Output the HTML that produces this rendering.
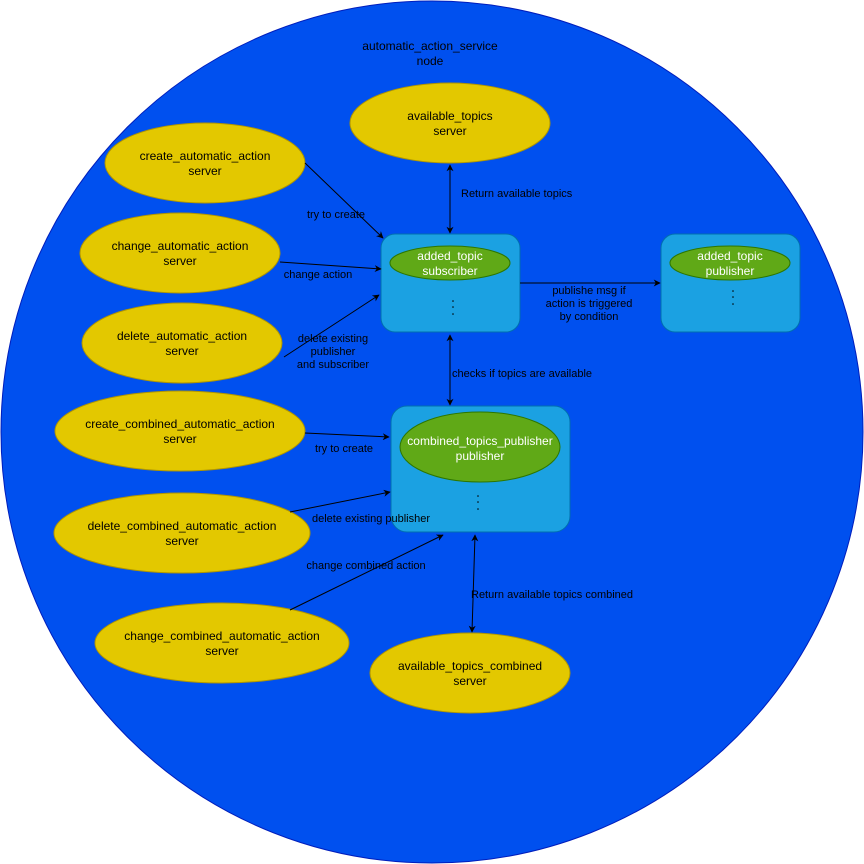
<!DOCTYPE html>
<html><head><meta charset="utf-8"><style>
html,body{margin:0;padding:0;background:#fff;}
svg{display:block;}
text{font-family:"Liberation Sans",Arial,sans-serif;}
</style></head><body>
<svg width="864" height="864" viewBox="0 0 864 864" xmlns="http://www.w3.org/2000/svg">
<defs>
<marker id="a" viewBox="0 0 10 10" refX="9" refY="5" markerWidth="7" markerHeight="7" orient="auto-start-reverse">
<path d="M0,0 L10,5 L0,10 L3,5 z" fill="#000"/></marker>
</defs>
<circle cx="432" cy="432" r="431" fill="#0050EF" stroke="#001DBC" stroke-width="1"/>
<g font-size="12" fill="#000" text-anchor="middle">
<text x="430" y="50">automatic_action_service</text>
<text x="430" y="65">node</text>
</g>
<g fill="#E3C800" stroke="#B09500" stroke-width="1">
<ellipse cx="450" cy="123" rx="100" ry="40"/>
<ellipse cx="205" cy="163" rx="100" ry="40"/>
<ellipse cx="180" cy="253" rx="100" ry="40"/>
<ellipse cx="182" cy="343" rx="100" ry="40"/>
<ellipse cx="180" cy="431" rx="125" ry="40"/>
<ellipse cx="182" cy="533" rx="128" ry="40"/>
<ellipse cx="222" cy="643" rx="127" ry="40"/>
<ellipse cx="470" cy="673" rx="100" ry="40"/>
</g>
<g font-size="12" fill="#000" text-anchor="middle">
<text x="450" y="120">available_topics</text><text x="450" y="135">server</text>
<text x="205" y="160">create_automatic_action</text><text x="205" y="175">server</text>
<text x="180" y="250">change_automatic_action</text><text x="180" y="265">server</text>
<text x="182" y="340">delete_automatic_action</text><text x="182" y="355">server</text>
<text x="180" y="428">create_combined_automatic_action</text><text x="180" y="443">server</text>
<text x="182" y="530">delete_combined_automatic_action</text><text x="182" y="545">server</text>
<text x="222" y="640">change_combined_automatic_action</text><text x="222" y="655">server</text>
<text x="470" y="670">available_topics_combined</text><text x="470" y="685">server</text>
</g>
<g fill="#1BA1E2" stroke="#006EAF" stroke-width="1">
<rect x="381" y="234" width="139" height="98" rx="14"/>
<rect x="661" y="234" width="139" height="98" rx="14"/>
<rect x="391" y="406" width="179" height="126" rx="16"/>
</g>
<g fill="#60A917" stroke="#2D7600" stroke-width="1">
<ellipse cx="450" cy="263" rx="60" ry="17"/>
<ellipse cx="730" cy="263" rx="60" ry="17"/>
<ellipse cx="480" cy="447" rx="80" ry="35"/>
</g>
<g font-size="12" fill="#fff" text-anchor="middle">
<text x="450" y="260">added_topic</text><text x="450" y="275">subscriber</text>
<text x="730" y="260">added_topic</text><text x="730" y="275">publisher</text>
<text x="480" y="445">combined_topics_publisher</text><text x="480" y="460">publisher</text>
</g>
<g fill="#000">
<circle cx="453" cy="301" r="0.8"/><circle cx="453" cy="307" r="0.8"/><circle cx="453" cy="314" r="0.8"/>
<circle cx="733" cy="291" r="0.8"/><circle cx="733" cy="297" r="0.8"/><circle cx="733" cy="304" r="0.8"/>
<circle cx="478" cy="496" r="0.8"/><circle cx="478" cy="502" r="0.8"/><circle cx="478" cy="509" r="0.8"/>
</g>
<g stroke="#000" stroke-width="1" fill="none">
<line x1="450" y1="165" x2="450" y2="233" marker-start="url(#a)" marker-end="url(#a)"/>
<line x1="305" y1="163" x2="383" y2="238" marker-end="url(#a)"/>
<line x1="280" y1="262" x2="381" y2="269" marker-end="url(#a)"/>
<line x1="284" y1="357" x2="379" y2="295" marker-end="url(#a)"/>
<line x1="450" y1="335" x2="450" y2="405" marker-start="url(#a)" marker-end="url(#a)"/>
<line x1="520" y1="283" x2="660" y2="283" marker-end="url(#a)"/>
<line x1="305" y1="433" x2="389" y2="437" marker-end="url(#a)"/>
<line x1="290" y1="512" x2="390" y2="492" marker-end="url(#a)"/>
<line x1="290" y1="610" x2="443" y2="535" marker-end="url(#a)"/>
<line x1="475" y1="535" x2="472" y2="632" marker-start="url(#a)" marker-end="url(#a)"/>
</g>
<g font-size="11" fill="#000">
<text x="461" y="197">Return available topics</text>
<text x="336" y="218" text-anchor="middle">try to create</text>
<text x="318" y="278" text-anchor="middle">change action</text>
<text x="333" y="342" text-anchor="middle">delete existing</text>
<text x="333" y="355" text-anchor="middle">publisher</text>
<text x="333" y="368" text-anchor="middle">and subscriber</text>
<text x="589" y="294" text-anchor="middle">publishe msg if</text>
<text x="589" y="307" text-anchor="middle">action is triggered</text>
<text x="589" y="320" text-anchor="middle">by condition</text>
<text x="452" y="377">checks if topics are available</text>
<text x="344" y="452" text-anchor="middle">try to create</text>
<text x="371" y="522" text-anchor="middle">delete existing publisher</text>
<text x="366" y="569" text-anchor="middle">change combined action</text>
<text x="471" y="598">Return available topics combined</text>
</g>
</svg>
</body></html>
